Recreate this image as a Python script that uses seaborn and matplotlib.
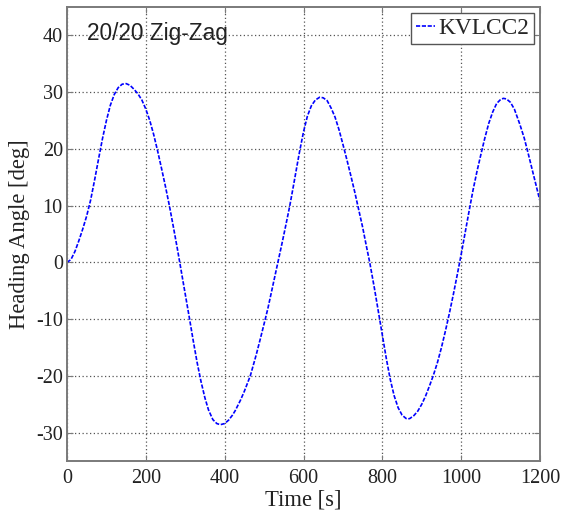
import matplotlib
matplotlib.use("Agg")
import matplotlib.pyplot as plt
import seaborn as sns
import pandas as pd

time_s = [0, 10, 20, 30, 40, 50, 60, 70, 80, 90, 100, 110, 120, 130, 140, 150, 160, 170, 180, 190,
          200, 210, 220, 230, 240, 250, 260, 270, 280, 290, 300, 311, 320, 330, 340, 350, 359, 370,
          380, 389, 400, 410, 420, 427, 440, 450, 465, 480, 490, 503, 510, 520, 530, 535, 545, 555,
          565, 575, 585, 590, 600, 610, 620, 630, 641, 650, 660, 670, 680, 690, 700, 710, 720, 730,
          740, 750, 760, 768, 780, 790, 800, 810, 820, 830, 840, 850, 860, 865, 870, 880, 890, 900,
          910, 920, 929, 940, 950, 960, 970, 980, 990, 1000, 1010, 1020, 1030, 1040, 1050, 1060,
          1070, 1080, 1090, 1100, 1107, 1115, 1125, 1135, 1149, 1160, 1170, 1180, 1190, 1200]
heading_deg = [0, 0.5, 1.9, 3.8, 5.9, 8.2, 11.0, 14.5, 18.2, 21.8, 25.0, 27.7, 29.6, 30.8, 31.4, 31.5,
               31.2, 30.5, 29.7, 28.6, 27.0, 25.0, 22.5, 19.6, 16.5, 13.3, 9.9, 6.2, 2.4, -1.6, -5.6,
               -10.0, -13.7, -17.6, -21.0, -23.9, -26.0, -27.7, -28.4, -28.6, -28.4, -27.8, -26.9,
               -26.1, -24.3, -22.7, -20.0, -16.3, -13.6, -10.0, -8.0, -4.8, -1.6, 0.0, 3.2, 6.5, 9.9,
               13.7, 17.6, 19.5, 23.0, 25.8, 27.6, 28.6, 29.1, 29.0, 28.5, 27.2, 25.6, 23.4, 20.8,
               18.1, 15.3, 12.4, 9.3, 6.2, 2.7, 0.0, -4.6, -8.7, -12.8, -16.9, -20.6, -23.5, -25.6,
               -26.9, -27.5, -27.6, -27.5, -27.0, -26.2, -25.0, -23.5, -21.7, -20.0, -17.6, -15.0,
               -12.1, -9.0, -5.7, -2.2, 1.4, 5.2, 9.0, 12.7, 16.0, 19.0, 21.9, 24.5, 26.5, 28.0,
               28.7, 28.9, 28.8, 28.2, 27.0, 24.3, 21.9, 19.2, 16.4, 13.6, 10.8]
series_name = "KVLCC2"
x_ticks = [0, 200, 400, 600, 800, 1000, 1200]
y_ticks = [-30, -20, -10, 0, 10, 20, 30, 40]

df = pd.DataFrame({"Time": time_s, "Heading": heading_deg, "Series": series_name})

sns.set_theme(style="white")
plt.rcParams["font.family"] = ["Liberation Serif", "DejaVu Serif"]
plt.rcParams["axes.unicode_minus"] = False

fig = plt.figure(figsize=(5.65, 5.18), dpi=100)
ax = fig.add_axes([67 / 565, 1 - 461 / 518, (540 - 67) / 565, (461 - 7) / 518])

sns.lineplot(data=df, x="Time", y="Heading", hue="Series", palette=["#0000ff"],
             ax=ax, sort=False, estimator=None, linewidth=1.2)
for ln in ax.get_lines():
    ln.set_dashes([2.5, 1.0])
    ln.set_dash_joinstyle("round")

ax.set_xlim(0, 1200)
ax.set_ylim(-35, 45)
ax.set_xticks(x_ticks)
ax.set_yticks(y_ticks)
ax.grid(True, color="#555555", linestyle=(0, (1, 2)), linewidth=0.9)
for s in ax.spines.values():
    s.set_color("#7a7a7a")
    s.set_linewidth(1.4)
ax.tick_params(direction="in", length=4, width=0.8, color="#7a7a7a",
               labelsize=14.5, labelcolor="#222222", pad=3,
               top=True, right=True, bottom=True, left=True)
ax.tick_params(axis="x", pad=6)

ax.set_xlabel("Time [s]", fontsize=16.3, color="#222222", labelpad=1)
ax.set_ylabel("Heading Angle [deg]", fontsize=16.3, color="#222222", labelpad=4)

ax.text(51, 40.3, "20/20 Zig-Zag", fontsize=16.3, family=["Liberation Sans", "DejaVu Sans"],
        color="#222222", va="center", ha="left")

leg = ax.legend(loc="upper right", fontsize=16.8, handlelength=0.8, handletextpad=0.15,
                borderpad=0.22, borderaxespad=0.25, fancybox=False, framealpha=1)
leg.get_frame().set_edgecolor("#555555")
leg.get_frame().set_linewidth(1.0)
for h in leg.get_lines():
    h.set_dashes([2.5, 1.0])

fig.savefig("out.png", dpi=100)
